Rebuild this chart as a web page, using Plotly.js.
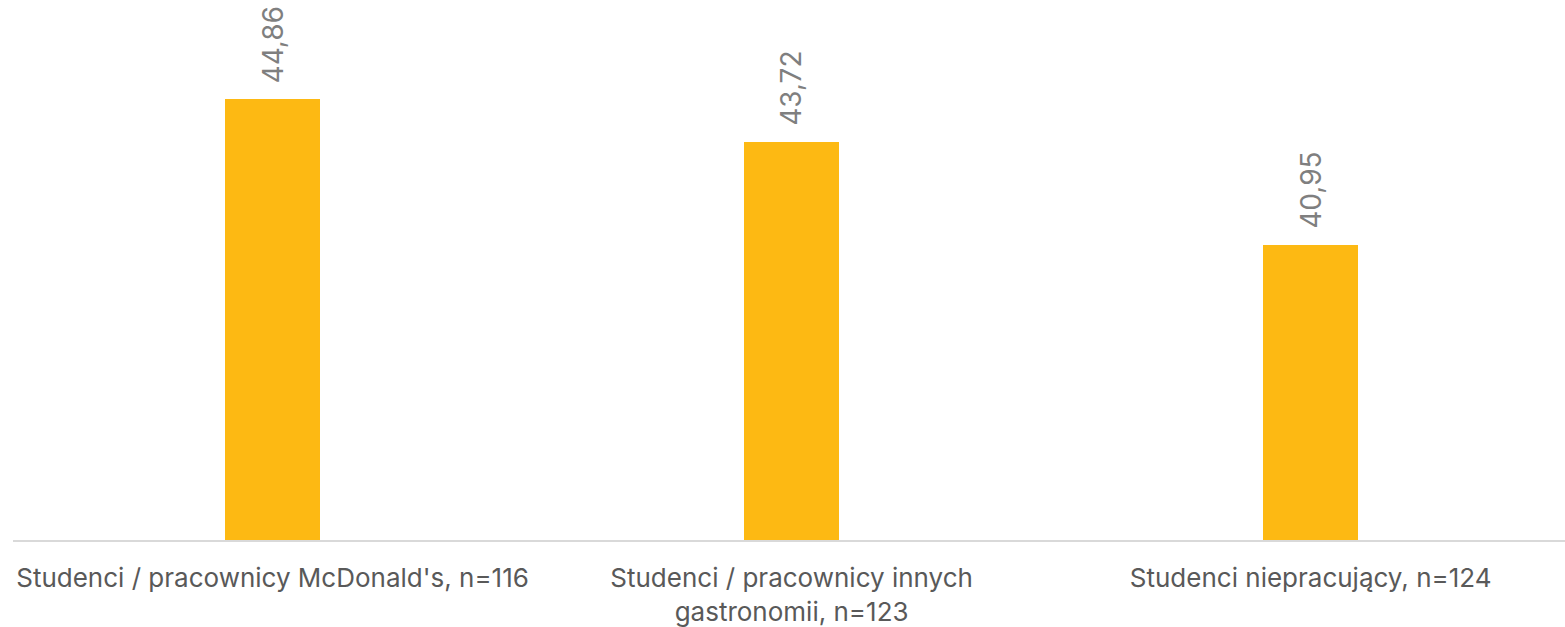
<!DOCTYPE html>
<html>
<head>
<meta charset="utf-8">
<script src="https://cdn.plot.ly/plotly-3.0.1.min.js"></script>
<style>html,body{margin:0;padding:0;background:#fff;}#chart{width:1565px;height:627px;}</style>
</head>
<body>
<div id="chart"></div>
<script>
const categories = ["Studenci / pracownicy McDonald's, n=116", "Studenci / pracownicy innych<br>gastronomii, n=123", "Studenci niepracujący, n=124"];
const values = [44.86, 43.72, 40.95];
const valueLabels = ["44,86", "43,72", "40,95"];

const trace = {
  type: 'bar',
  x: categories,
  y: values,
  marker: {color: '#FDB913'},
  width: 0.183,
  hoverinfo: 'none'
};

const annotations = categories.map((c, i) => ({
  x: c, y: values[i], xref: 'x', yref: 'y',
  text: valueLabels[i],
  textangle: -90,
  showarrow: false,
  xanchor: 'center', yanchor: 'bottom',
  yshift: 14,
  font: {family: 'Inter, sans-serif', size: 28, color: '#7f7f7f'}
}));

const layout = {
  width: 1565, height: 627,
  margin: {l: 13, r: 0, t: 57, b: 87},
  paper_bgcolor: '#ffffff', plot_bgcolor: '#ffffff',
  showlegend: false,
  bargap: 0,
  annotations: annotations,
  xaxis: {
    type: 'category',
    range: [-0.5, 2.49],
    showline: true, linecolor: '#d9d9d9', linewidth: 2,
    ticks: '', showgrid: false, zeroline: false,
    ticklabelstandoff: 14,
    tickfont: {family: 'Inter, sans-serif', size: 26, color: '#595959'},
    tickangle: 0
  },
  yaxis: {
    range: [33, 46],
    visible: false, showgrid: false, zeroline: false, fixedrange: true
  }
};

Plotly.newPlot('chart', [trace], layout, {staticPlot: true, displayModeBar: false});
</script>
</body>
</html>
